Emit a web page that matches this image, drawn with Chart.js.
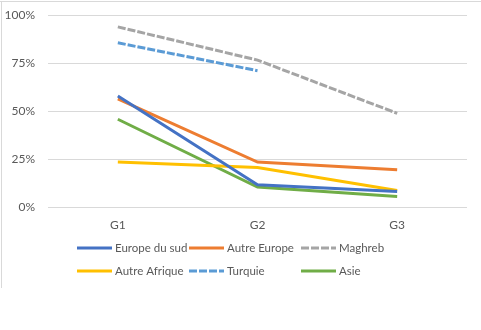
<!DOCTYPE html>
<html>
<head>
<meta charset="utf-8">
<script src="https://cdn.jsdelivr.net/npm/chart.js@4/dist/chart.umd.min.js"></script>
<style>
  html, body { margin: 0; padding: 0; background: #fff; }
  #wrap { width: 481px; height: 330px; position: relative; }
</style>
</head>
<body>
<div id="wrap"><canvas id="c" width="481" height="330"></canvas></div>
<script>
// Categories and series (share in %)
const categories = ["G1", "G2", "G3"];
const europeDuSud = [57.8, 11.6, 8.1];
const autreEurope = [56.3, 23.4, 19.4];
const maghreb = [93.8, 76.5, 48.8];
const autreAfrique = [23.4, 20.6, 8.6];
const turquie = [85.5, 71.0, null];
const asie = [45.7, 10.4, 5.5];
const yTicks = [0, 25, 50, 75, 100];

const FONT = "Lato, 'Open Sans', sans-serif";
const TEXT = "#595959";
const GRID = "#D9D9D9";

function series(label, data, color, dash) {
  return {
    label, data,
    borderColor: color,
    backgroundColor: color,
    borderWidth: 3,
    borderDash: dash || [],
    pointRadius: 0,
    pointHoverRadius: 0,
    tension: 0,
    spanGaps: false,
    fill: false
  };
}

// Legend laid out as a two-row grid below the plot
const gridLegend = {
  id: "gridLegend",
  afterDraw(chart) {
    const ctx = chart.ctx;
    const cols = [77, 189, 301];
    const rows = [248, 271];
    ctx.save();
    ctx.font = "11.5px " + FONT;
    ctx.fillStyle = TEXT;
    ctx.textBaseline = "middle";
    chart.data.datasets.forEach((ds, i) => {
      const x = cols[i % 3], y = rows[Math.floor(i / 3)];
      ctx.beginPath();
      ctx.strokeStyle = ds.borderColor;
      ctx.lineWidth = 3;
      ctx.setLineDash(ds.borderDash || []);
      ctx.moveTo(x, y);
      ctx.lineTo(x + 35, y);
      ctx.stroke();
      ctx.setLineDash([]);
      ctx.fillText(ds.label, x + 38, y);
    });
    ctx.restore();
  }
};

// White background with a thin frame on the top and left edges
const frame = {
  id: "frame",
  beforeDraw(chart) {
    const ctx = chart.ctx;
    ctx.save();
    ctx.fillStyle = "#fff";
    ctx.fillRect(0, 0, chart.width, chart.height);
    ctx.strokeStyle = GRID;
    ctx.lineWidth = 1;
    ctx.beginPath();
    ctx.moveTo(0, 1.5); ctx.lineTo(chart.width, 1.5);
    ctx.moveTo(1.5, 1.5); ctx.lineTo(1.5, 288);
    ctx.stroke();
    ctx.restore();
  }
};

new Chart(document.getElementById("c"), {
  type: "line",
  data: {
    labels: categories,
    datasets: [
      series("Europe du sud", europeDuSud, "#4472C4"),
      series("Autre Europe", autreEurope, "#ED7D31"),
      series("Maghreb", maghreb, "#A5A5A5", [8, 2]),
      series("Autre Afrique", autreAfrique, "#FFC000"),
      series("Turquie", turquie, "#5B9BD5", [8, 2]),
      series("Asie", asie, "#70AD47")
    ]
  },
  options: {
    responsive: false,
    animation: false,
    layout: { padding: { left: 0, right: 14, top: 15, bottom: 100 } },
    plugins: {
      legend: { display: false },
      tooltip: { enabled: false }
    },
    scales: {
      x: {
        offset: true,
        grid: { display: false, drawTicks: false },
        border: { display: false },
        ticks: { color: TEXT, font: { family: FONT, size: 12 }, padding: 11 },
        afterFit(scale) { scale.height = 23; }
      },
      y: {
        min: 0, max: 100,
        afterBuildTicks(scale) { scale.ticks = yTicks.map(v => ({ value: v })); },
        grid: { color: GRID, lineWidth: 1, drawTicks: false },
        border: { display: false },
        ticks: {
          color: TEXT,
          font: { family: FONT, size: 12 },
          padding: 13,
          callback: v => v + "%"
        },
        afterFit(scale) {
          scale.width = 48;
          scale.paddingTop = 0;
          scale.paddingBottom = 0;
        }
      }
    }
  },
  plugins: [frame, gridLegend]
});
</script>
</body>
</html>
